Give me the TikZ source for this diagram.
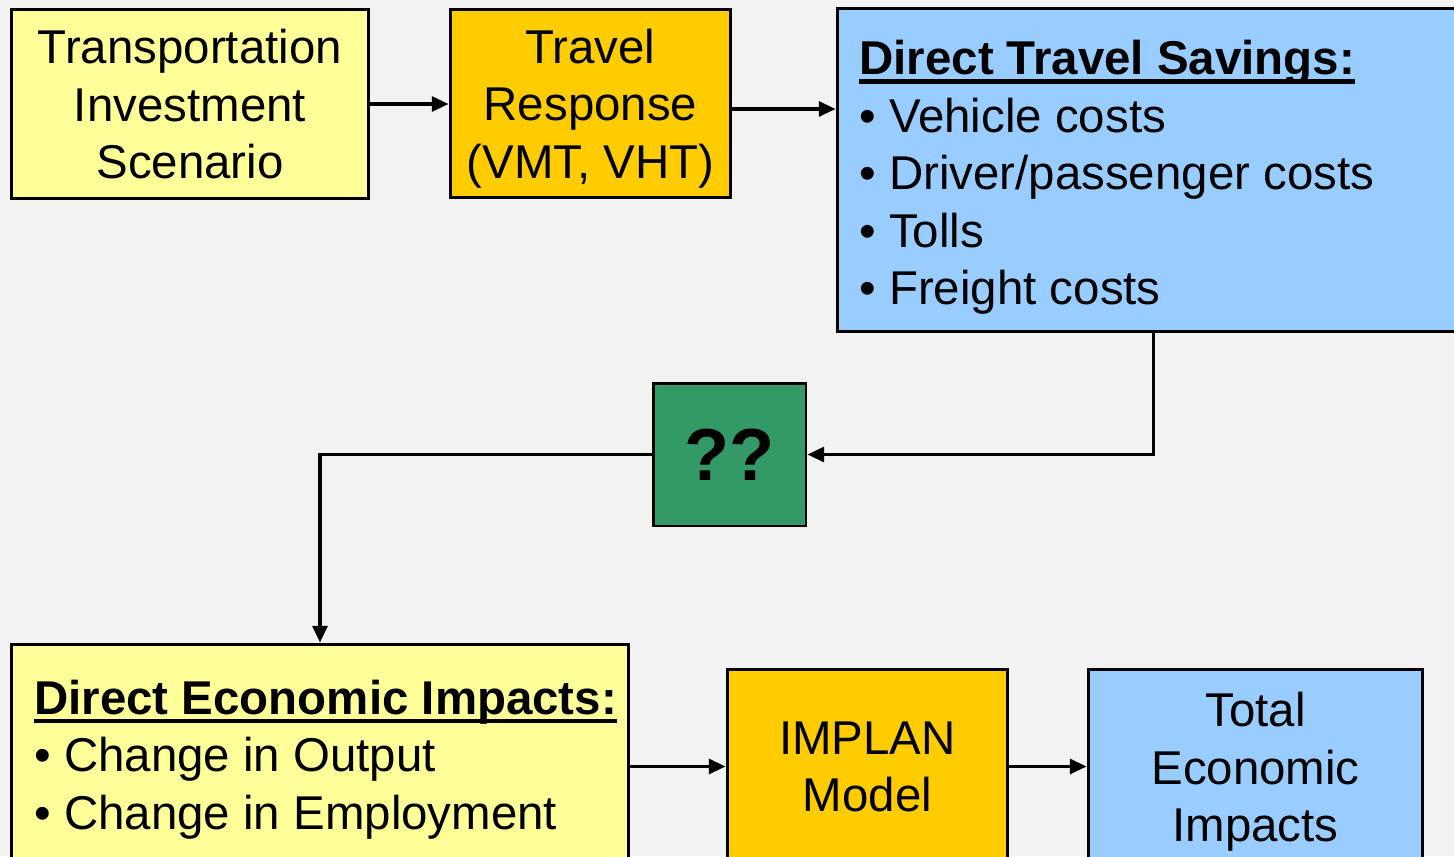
\documentclass[tikz,border=0pt]{standalone}
\usepackage{fontspec}
\setmainfont{Liberation Sans}
\usetikzlibrary{arrows.meta,calc}
\definecolor{bg}{HTML}{F2F2F2}
\definecolor{ly}{HTML}{FFFF99}
\definecolor{orng}{HTML}{FFCC00}
\definecolor{lb}{HTML}{99CCFF}
\definecolor{grn}{HTML}{339966}
\newcommand\myul[1]{\setbox0\hbox{#1}\leavevmode\rlap{\rule[-5pt]{\wd0}{2.5pt}}\box0}
\begin{document}
\begin{tikzpicture}[x=0.02cm,y=-0.02cm,
  box/.style={draw=black,line width=1.7pt,inner sep=0pt,align=center,text depth=0pt,font=\fontsize{27}{32.7}\selectfont},
  listtext/.style={anchor=west,align=left,inner sep=0pt,text depth=0pt,font=\fontsize{27}{32.7}\selectfont},
  arr/.style={line width=1.8pt,-{Triangle[length=9.5pt,width=8.5pt]}}]
\fill[bg] (0,0) rectangle (1454,856);
\useasboundingbox (0,0) rectangle (1454,856);
\clip (0,0) rectangle (1454,856);

\node[box,fill=ly,minimum width=7.16cm,minimum height=3.80cm] (A) at (190,104) {Transportation\\Investment\\Scenario};
\node[box,fill=orng,minimum width=5.62cm,minimum height=3.78cm] (B) at (590.5,103.5) {Travel\\Response\\(VMT, VHT)};
\node[box,fill=lb,minimum width=12.66cm,minimum height=6.48cm] (C) at (1153.5,170) {};
\node[listtext] (Ct) at (859,172.5) {\textbf{\myul{Direct Travel Savings:}}\\• Vehicle costs\\• Driver/passenger costs\\• Tolls\\• Freight costs};
\node[box,fill=grn,minimum width=3.06cm,minimum height=2.86cm,font=\fontsize{42}{50}\selectfont\bfseries] (D) at (729.5,454.5) {??};
\node[box,fill=ly,minimum width=12.36cm,minimum height=4.42cm] (E) at (320,754.5) {};
\node[listtext] (Et) at (34,754.5) {\textbf{\myul{Direct Economic Impacts:}}\\• Change in Output\\• Change in Employment};
\node[box,fill=orng,minimum width=5.62cm,minimum height=3.90cm] (F) at (867.5,766.5) {IMPLAN\\Model};
\node[box,fill=lb,minimum width=6.70cm,minimum height=3.92cm] (G) at (1255.5,767) {Total\\Economic\\Impacts};

\draw[arr] (A.east) -- (A.east -| B.west);
\coordinate (b1) at ($(B.east)+(0,5.5)$);
\draw[arr] (b1) -- (b1 -| C.west);
\draw[arr] (C.south) |- (D.east);
\draw[arr] (D.west) -| (E.north);
\draw[arr] (E.east |- F.west) -- (F.west);
\draw[arr] (F.east) -- (F.east -| G.west);
\end{tikzpicture}
\end{document}
